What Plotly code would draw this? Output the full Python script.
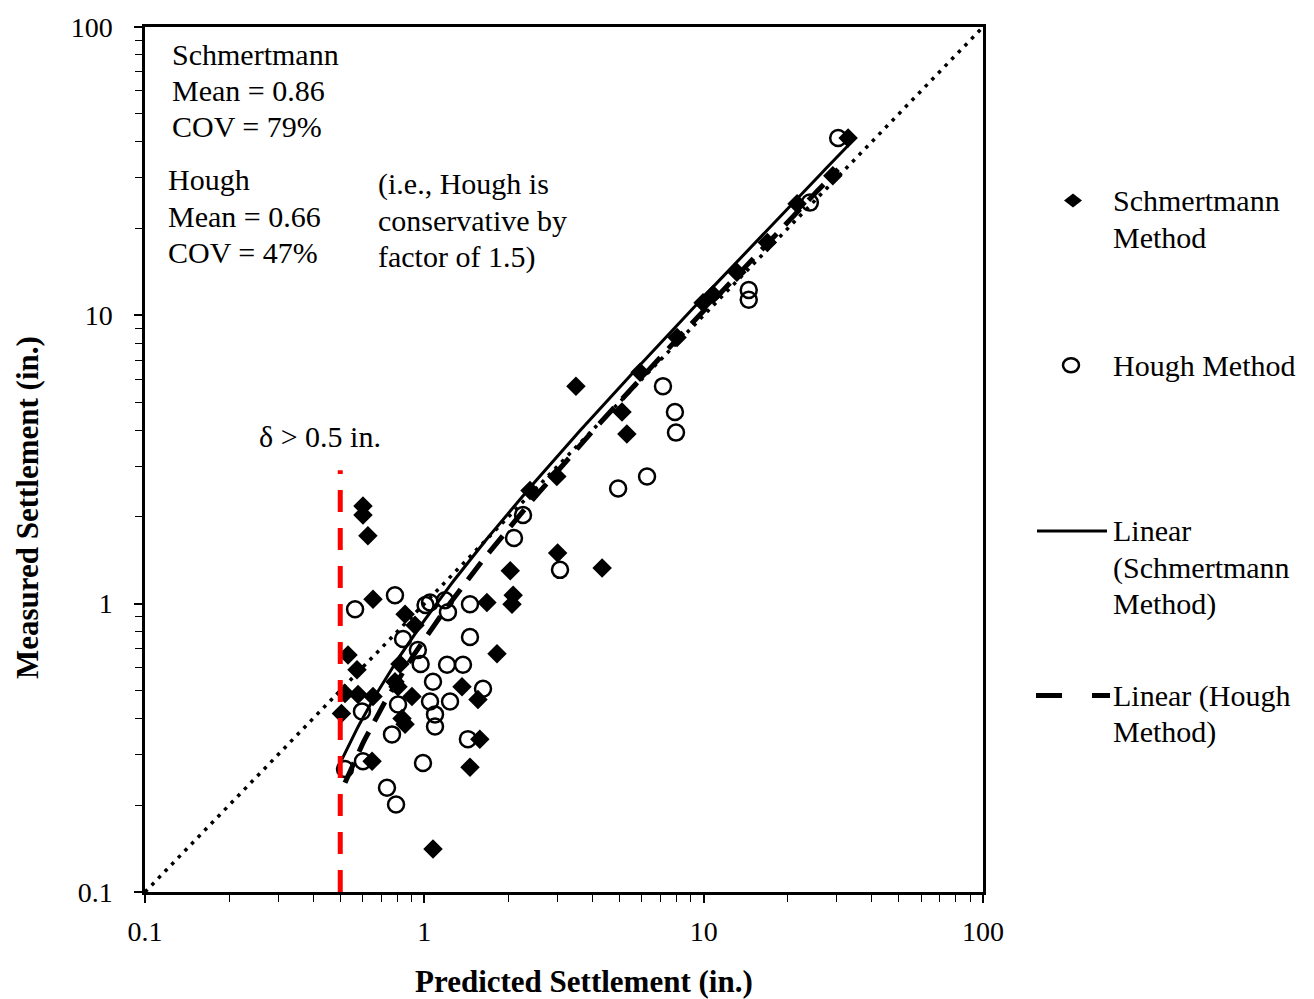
import numpy as np
import plotly.graph_objects as go

# Predicted vs measured settlement (in.) for each method
schm_pred = [32.9, 29.0, 21.6, 16.9, 13.15, 10.8, 9.95, 8.03, 5.92, 5.10, 5.31, 3.49,
             2.98, 2.39, 3.00, 4.33, 2.03, 2.08, 2.06, 1.675, 1.82, 1.364, 1.556, 1.58,
             1.457, 1.074, 0.603, 0.603, 0.628, 0.655, 0.853, 0.926, 0.533, 0.574, 0.520,
             0.505, 0.579, 0.655, 0.805, 0.832, 0.853, 0.903, 0.650, 0.818, 0.785]
schm_meas = [41.2, 30.5, 24.4, 17.9, 14.1, 11.8, 11.05, 8.38, 6.35, 4.62, 3.88, 5.68,
             2.76, 2.47, 1.50, 1.33, 1.30, 1.07, 0.995, 1.01, 0.67, 0.515, 0.465, 0.339,
             0.271, 0.141, 2.18, 2.03, 1.72, 1.035, 0.919, 0.842, 0.664, 0.590, 0.488,
             0.416, 0.484, 0.476, 0.515, 0.400, 0.382, 0.476, 0.284, 0.618, 0.536]

hough_pred = [30.3, 24.0, 14.5, 14.5, 7.15, 7.89, 7.96, 6.27, 4.94, 3.06, 2.256, 2.094,
              1.457, 1.457, 1.206, 1.375, 1.074, 1.622, 1.048, 1.236, 1.092, 1.092, 1.432,
              0.989, 0.735, 0.792, 0.603, 0.52, 0.766, 0.598, 0.805, 0.565, 0.785, 1.048,
              1.01, 1.186, 1.215, 0.839, 0.948, 0.97]
hough_meas = [41.2, 24.6, 12.25, 11.33, 5.68, 4.62, 3.92, 2.76, 2.51, 1.31, 2.03, 1.69,
              0.995, 0.766, 0.614, 0.614, 0.536, 0.507, 0.458, 0.458, 0.413, 0.375, 0.339,
              0.280, 0.230, 0.201, 0.284, 0.267, 0.352, 0.423, 0.447, 0.956, 1.07, 1.01,
              0.99, 1.027, 0.934, 0.754, 0.691, 0.618]

# Linear trendlines y = slope * x + intercept
schm_fit = (1.19, -0.315)
hough_fit = (1.07, -0.317)

# 1:1 reference line and the 0.5 in. settlement threshold
one_to_one = [0.1, 100]
threshold_x = [0.5, 0.5]
threshold_y = [0.1, 2.9]

tick_vals = [0.1, 1, 10, 100]
tick_text = ["0.1", "1", "10", "100"]
minor_vals = [d * m for d in (0.1, 1, 10) for m in range(2, 10)]

FONT = "Liberation Serif"
W, H = 1314, 999
L, R, T, B = 145, 331, 20, 107
PW, PH = W - L - R, H - T - B


def px(xp):
    return (xp - L) / PW


def py(yp):
    return (H - B - yp) / PH


def trend(xs, fit):
    xx = np.geomspace(min(xs), max(xs), 200)
    return xx, fit[0] * xx + fit[1]


fig = go.Figure()

fig.add_trace(go.Scatter(
    x=schm_pred, y=schm_meas, mode="markers", name="Schmertmann Method",
    marker=dict(symbol="diamond", size=15, color="black", line=dict(width=0)),
))
fig.add_trace(go.Scatter(
    x=hough_pred, y=hough_meas, mode="markers", name="Hough Method",
    marker=dict(symbol="circle-open", size=16, color="black", line=dict(width=2.5)),
))

sx, sy = trend(schm_pred, schm_fit)
fig.add_trace(go.Scatter(
    x=sx, y=sy, mode="lines", name="Linear (Schmertmann Method)",
    line=dict(color="black", width=3),
))
hx, hy = trend(hough_pred, hough_fit)
fig.add_trace(go.Scatter(
    x=hx, y=hy, mode="lines", name="Linear (Hough Method)",
    line=dict(color="black", width=5, dash="22px,12px"),
))

fig.add_trace(go.Scatter(
    x=one_to_one, y=one_to_one, mode="lines", name="1:1",
    line=dict(color="black", width=3.5, dash="3.5px,6px"),
))
fig.add_trace(go.Scatter(
    x=threshold_x, y=threshold_y, mode="lines", name="threshold",
    line=dict(color="#FF0000", width=5, dash="22px,16px"),
))

axis_common = dict(
    type="log", range=[-1, 2], showline=True, linecolor="black", linewidth=2.5,
    mirror=True, ticks="outside", ticklen=8, tickwidth=1.5, tickcolor="black",
    tickmode="array", tickvals=tick_vals, ticktext=tick_text,
    showgrid=False, zeroline=False,
    tickfont=dict(family=FONT, size=28, color="black"),
    minor=dict(tickmode="array", tickvals=minor_vals, ticks="outside", ticklen=7,
               tickwidth=1, tickcolor="black", showgrid=False),
)

fig.update_layout(
    width=W, height=H, margin=dict(l=L, r=R, t=T, b=B),
    paper_bgcolor="white", plot_bgcolor="white", showlegend=False,
    xaxis=dict(**axis_common, ticklabelstandoff=5),
    yaxis=dict(**axis_common, ticklabelstandoff=16),
)


def label(text, x, y, anchor="left", size=30, angle=0):
    fig.add_annotation(text=text, x=px(x), y=py(y), xref="paper", yref="paper",
                       xanchor=anchor, yanchor="middle", showarrow=False, textangle=angle,
                       font=dict(family=FONT, size=size, color="black"))


# Axis titles
label("<b>Predicted Settlement (in.)</b>", 584, 982, anchor="center", size=31)
label("<b>Measured Settlement (in.)</b>", 27, 505, anchor="center", size=31, angle=-90)

# Statistics block
for text, x, y in [("Schmertmann", 170, 48), ("Mean = 0.86", 170, 84), ("COV = 79%", 170, 120),
                   ("Hough", 166, 174), ("Mean = 0.66", 166, 211), ("COV = 47%", 166, 247),
                   ("(i.e., Hough is", 376, 178), ("conservative by", 376, 215),
                   ("factor of 1.5)", 376, 252)]:
    label(text, x, y)

label("δ > 0.5 in.", 320, 433, anchor="center")

# Legend
for text, y in [("Schmertmann", 195), ("Method", 232), ("Hough Method", 361),
                ("Linear", 528), ("(Schmertmann", 565), ("Method)", 602),
                ("Linear (Hough", 694), ("Method)", 731)]:
    label(text, 1111, y)

fig.add_shape(type="path", xref="paper", yref="paper", xsizemode="pixel", ysizemode="pixel",
              xanchor=px(1073), yanchor=py(195), path="M0,7 L9,0 L0,-7 L-9,0 Z",
              fillcolor="black", line=dict(width=0))
fig.add_shape(type="circle", xref="paper", yref="paper", xsizemode="pixel", ysizemode="pixel",
              xanchor=px(1071), yanchor=py(361), x0=-8, x1=8, y0=-7, y1=7,
              fillcolor="rgba(0,0,0,0)", line=dict(color="black", width=2.5))
fig.add_shape(type="line", xref="paper", yref="paper", x0=px(1037), x1=px(1107),
              y0=py(528), y1=py(528), line=dict(color="black", width=3))
fig.add_shape(type="line", xref="paper", yref="paper", x0=px(1036), x1=px(1110),
              y0=py(694), y1=py(694), line=dict(color="black", width=5, dash="26px,30px"))

fig.write_html("out.html")
